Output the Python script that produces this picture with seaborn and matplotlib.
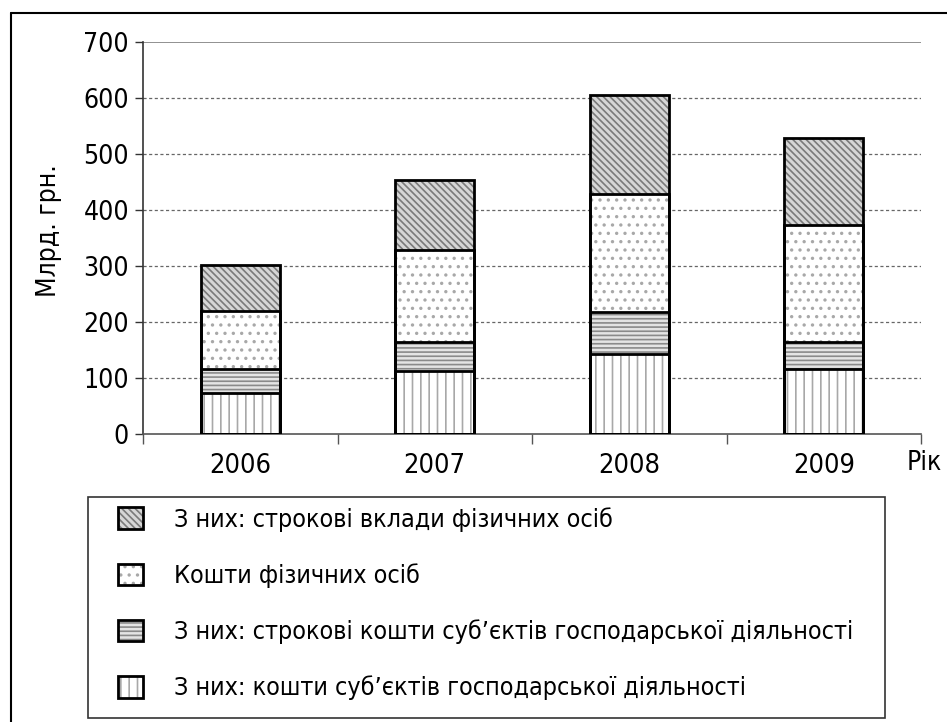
import numpy as np
import matplotlib.pyplot as plt
import seaborn as sns
from matplotlib import font_manager
from matplotlib.patches import Rectangle
from matplotlib.lines import Line2D

years = ["2006", "2007", "2008", "2009"]
# layer values, bottom to top (bln UAH)
business_funds = [74, 112, 143, 116]
business_term = [42, 53, 74, 49]
household_funds = [103, 164, 211, 209]
household_term = [83, 124, 178, 155]

labels = [
    "З них: кошти суб’єктів господарської діяльності",
    "З них: строкові кошти суб’єктів господарської діяльності",
    "Кошти фізичних осіб",
    "З них: строкові вклади фізичних осіб",
]
hatches = ["||", "----", "..", "\\\\\\\\\\"]
hatch_colors = ["#a8a8a8", "#8a8a8a", "#a8a8a8", "#7a7a7a"]
face_colors = ["white", "#e4e4e4", "white", "#d6d6d6"]

sns.set_theme(style="white")

# look for a narrow sans font; fall back to Liberation Sans
narrow = None
for f in font_manager.fontManager.ttflist:
    n = f.name
    if "Narrow" in n or "Condensed" in n:
        narrow = n
        break
    if str(f.stretch) in ("condensed", "semi-condensed", "extra-condensed") and n in (
            "DejaVu Sans", "Noto Sans", "Roboto", "Open Sans", "Liberation Sans"):
        narrow = n
        plt.rcParams["font.stretch"] = f.stretch
        break
main_font = narrow or "Liberation Sans"
plt.rcParams["font.family"] = [main_font, "DejaVu Sans"]
plt.rcParams["hatch.linewidth"] = 1.2
plt.rcParams["text.color"] = "black"
plt.rcParams["axes.labelcolor"] = "black"

fig = plt.figure(figsize=(9.47, 7.22), dpi=100)
W, H = 947, 722
ax = fig.add_axes([143 / W, 1 - 434 / H, (921 - 143) / W, (434 - 42) / H])

layers = [business_funds, business_term, household_funds, household_term]
cum = np.cumsum(np.array(layers), axis=0)

handles = {}
# draw tallest stack first so lower layers cover it
for i in range(3, -1, -1):
    sns.barplot(x=years, y=cum[i], color=face_colors[i], edgecolor=hatch_colors[i],
                linewidth=0, hatch=hatches[i], width=0.405, errorbar=None,
                saturation=1, ax=ax, zorder=2)
    fill_patch = ax.patches[-1]
    sns.barplot(x=years, y=cum[i], color="black", fill=False, linewidth=2,
                width=0.405, errorbar=None, ax=ax, zorder=3)
    outline_patch = ax.patches[-1]
    handles[i] = (fill_patch, outline_patch)

ax.set_ylim(0, 700)
ax.set_xlim(-0.5, 3.5)
ax.set_yticks(range(0, 701, 100))
for v in range(100, 700, 100):
    ax.axhline(v, color="#666666", lw=0.9, ls=(0, (2.5, 2)), zorder=1)
ax.axhline(700, color="#888888", lw=1.3, zorder=1)

for s in ["top", "right"]:
    ax.spines[s].set_visible(False)
ax.spines["left"].set_color("#333333")
ax.spines["bottom"].set_color("#555555")
ax.spines["left"].set_linewidth(1.2)
ax.spines["bottom"].set_linewidth(1.2)

fs = 18
ax.tick_params(axis="y", direction="out", length=6, width=1, colors="#333333",
               labelcolor="black", labelsize=19, pad=4, left=True)
ax.set_xticks([-0.5, 0.5, 1.5, 2.5, 3.5], minor=True)
ax.tick_params(axis="x", which="major", length=0, labelsize=19.5, labelcolor="black",
               pad=14, bottom=True)
ax.tick_params(axis="x", which="minor", direction="out", length=7, width=1,
               colors="#555555", bottom=True)
ax.set_xlabel("")
ax.set_ylabel("Млрд. грн.", fontsize=19)
ax.yaxis.set_label_coords((62 - 143) / 778, 0.52)

fig.text(907 / W, 1 - 463 / H, "Рік", fontsize=19, ha="left", va="center")

# outer frame (left and top edges visible)
fig.add_artist(Line2D([11 / W, 11 / W], [0, 1 - 13 / H], color="black", lw=1.5,
                      transform=fig.transFigure))
fig.add_artist(Line2D([11 / W, 1], [1 - 13 / H, 1 - 13 / H], color="black", lw=1.5,
                      transform=fig.transFigure))

# legend frame
fig.add_artist(Rectangle((88 / W, 1 - 718 / H), (885 - 88) / W, (718 - 497) / H,
                         transform=fig.transFigure, fill=False, edgecolor="#333333", lw=1.2))

order = [3, 2, 1, 0]
leg = fig.legend([handles[i] for i in order], [labels[i] for i in order],
                 loc="upper left", bbox_to_anchor=(118 / W, 1 - 507 / H),
                 frameon=False, fontsize=fs, handlelength=1.0, handleheight=0.95,
                 handletextpad=1.25, labelspacing=1.26, borderpad=0, borderaxespad=0)

fig.savefig("out.png", dpi=100)
